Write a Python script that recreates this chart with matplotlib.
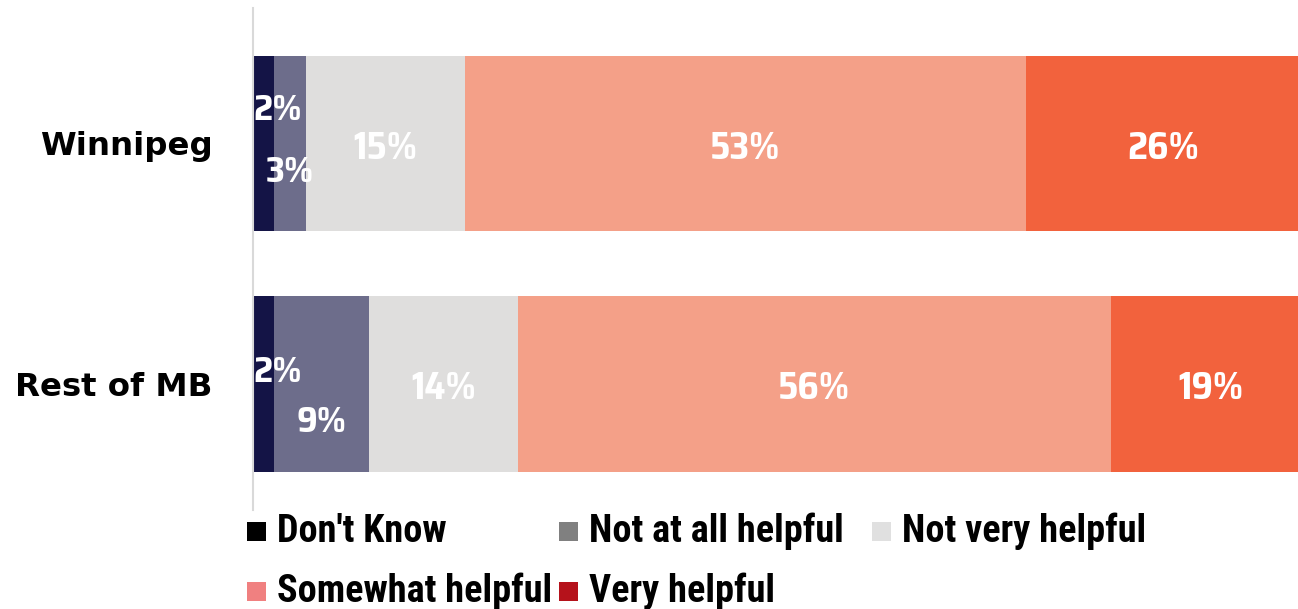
import matplotlib.pyplot as plt
from matplotlib import font_manager as fm
from matplotlib.patches import Rectangle

# data
categories = ["Winnipeg", "Rest of MB"]
series_names = ["Don't Know", "Not at all helpful", "Not very helpful",
                "Somewhat helpful", "Very helpful"]
dont_know = [2, 2]
not_at_all = [3, 9]
not_very = [15, 14]
somewhat = [53, 56]
very = [26, 19]

bar_colors = ["#141446", "#6d6d8b", "#dfdedd", "#f4a088", "#f2623d"]
legend_colors = ["#000000", "#808080", "#e0e0e0", "#f08080", "#b5121b"]


def has_font(name):
    try:
        fm.findfont(fm.FontProperties(family=name, weight="bold"), fallback_to_default=False)
        return True
    except ValueError:
        return False


semi = has_font("Saira SemiCondensed")
label_font = ["Saira SemiCondensed" if semi else "Saira Condensed", "DejaVu Sans"]
label_size = 27 if semi else 30
cat_font = ["DejaVu Sans"]
legend_font = ["Roboto Condensed", "DejaVu Sans"]

W, H = 1298, 609
fig = plt.figure(figsize=(W / 100, H / 100), dpi=100)
ax = fig.add_axes([253 / W, 1 - 510 / H, 1 - 253 / W, 502 / H])

series = [dont_know, not_at_all, not_very, somewhat, very]
y = list(range(len(categories)))
left = [0] * len(categories)

# small segments get their labels nudged (x anchor, y offset)
small_offsets = {
    (0, 0): ("left", -0.14), (0, 1): ("center", 0.12),
    (1, 0): ("left", -0.05), (1, 1): ("center", 0.16),
}

for s, vals in enumerate(series):
    ax.barh(y, vals, left=left, height=0.73, color=bar_colors[s], edgecolor="none")
    for i, v in enumerate(vals):
        if (i, s) in small_offsets:
            ha, dy = small_offsets[(i, s)]
            x = left[i] if ha == "left" else left[i] + v / 2
            ax.text(x, y[i] + dy, f"{v}%", ha=ha, va="center", color="white",
                    fontsize=label_size - 1, fontweight="bold", family=label_font)
        else:
            ax.text(left[i] + v / 2, y[i] + 0.02, f"{v}%", ha="center", va="center",
                    color="white", fontsize=label_size, fontweight="bold", family=label_font)
        left[i] += v

ax.set_xlim(0, 98.7)
ax.set_ylim(1.524, -0.563)
ax.set_yticks(y)
ax.set_yticklabels(categories, fontsize=23.3, fontweight="bold", family=cat_font)
ax.tick_params(axis="y", length=0, pad=29)
ax.set_xticks([])
for sp in ["top", "right", "bottom"]:
    ax.spines[sp].set_visible(False)
ax.spines["left"].set_color("#d9d9d9")
ax.spines["left"].set_linewidth(1.5)

# legend laid out in fixed-width columns, row by row
col_x = [247, 559, 872]
row_base = [542, 602]
for k, (name, c) in enumerate(zip(series_names, legend_colors)):
    cx = col_x[k % 3]
    base = row_base[k // 3]
    fig.add_artist(Rectangle((cx / W, 1 - (base - 1) / H), 19 / W, 19 / H,
                             transform=fig.transFigure, facecolor=c, edgecolor="none"))
    fig.text((cx + 30) / W, 1 - base / H, name, ha="left", va="baseline",
             fontsize=27.5, fontweight="bold", family=legend_font)

fig.savefig("out.png", dpi=100)
